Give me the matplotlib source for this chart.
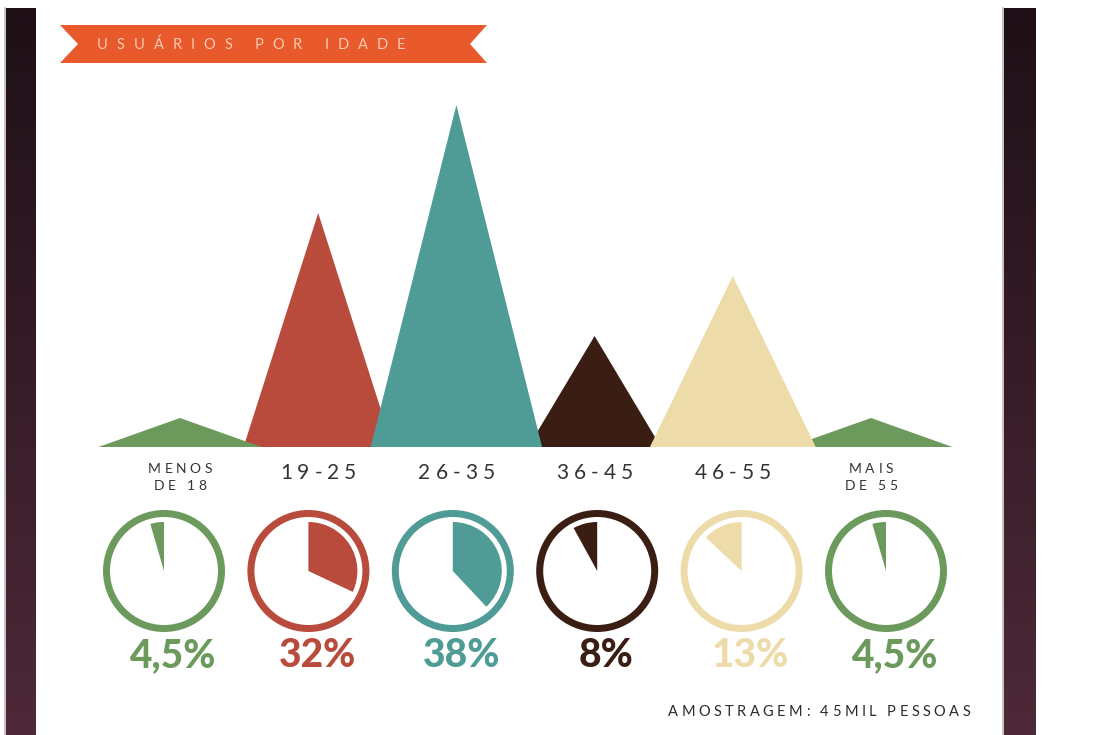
import numpy as np
import matplotlib
matplotlib.use("Agg")
import matplotlib.pyplot as plt
from matplotlib.patches import Polygon, Wedge, Circle
from matplotlib.colors import LinearSegmentedColormap

# ---- data -------------------------------------------------------------
age_groups = ["MENOS\nDE 18", "19-25", "26-35", "36-45", "46-55", "MAIS\nDE 55"]
shares = [4.5, 32, 38, 8, 13, 4.5]               # % of users
peak_heights = [29, 234, 342, 111, 171, 29]       # height of each mountain
title = "USUÁRIOS POR IDADE"
footnote = "AMOSTRAGEM: 45MIL PESSOAS"

# ---- style ------------------------------------------------------------
colors = ["#6c9a5c", "#b84b3b", "#4f9b95", "#3a1e13", "#eddcaa", "#6c9a5c"]
half_base = [0.59, 0.54, 0.62, 0.48, 0.60, 0.59]
layer = [2, 1, 3, 1, 3, 2]
clockwise = [False, True, True, False, False, False]

W, H = 1111, 735
fig = plt.figure(figsize=(W / 100, H / 100), dpi=100)
fig.patch.set_facecolor("white")
renderer = fig.canvas.get_renderer()


def tracked(x, y, s, size, tracking, color, ha="center",
            family="Lato", weight="normal"):
    """Letter-spaced text; x, y in pixels from top-left, y is the baseline."""
    widths = []
    for ch in s:
        if ch == " ":
            widths.append(size * 100 / 72 * 0.28)
        else:
            t = fig.text(0, 0, ch, fontsize=size, family=family, weight=weight)
            widths.append(t.get_window_extent(renderer).width)
            t.remove()
    total = sum(widths) + tracking * (len(s) - 1)
    if ha == "center":
        x0 = x - total / 2
    elif ha == "right":
        x0 = x - total
    else:
        x0 = x
    for ch, w in zip(s, widths):
        if ch != " ":
            fig.text(x0 / W, 1 - y / H, ch, fontsize=size, family=family,
                     weight=weight, color=color, ha="left", va="baseline")
        x0 += w + tracking


# ---- frame and banner -------------------------------------------------
bg = fig.add_axes([0, 0, 1, 1], zorder=-1)
grad = np.linspace(0, 1, 256).reshape(-1, 1)
frame_cmap = LinearSegmentedColormap.from_list("frame", ["#1e1016", "#4e2939"])
for left, right in [(6, 36), (1004, 1036)]:
    bg.imshow(grad, cmap=frame_cmap, extent=(left, right, H, 8), aspect="auto")
    bg.plot([left - 1.2, left - 1.2], [8, H], color="#bdb6b9", lw=1.2)
bg.add_patch(Polygon([(60, 25), (487, 25), (470, 44), (487, 63), (60, 63), (78, 44)],
                     closed=True, fc="#e8592b", ec="none"))
bg.set_xlim(0, W)
bg.set_ylim(H, 0)
bg.axis("off")

tracked(97, 49, title, 10.5, 9.0, "#f7cbb2", ha="left")

# ---- mountains --------------------------------------------------------
px_per_unit = 138.2
ax = fig.add_axes([(180 - 0.75 * px_per_unit) / W, (H - 447) / H,
                   6.5 * px_per_unit / W, 360 / H])
for i, (h, c) in enumerate(zip(peak_heights, colors)):
    hb = half_base[i]
    ax.fill([i - hb, i, i + hb], [0, h, 0], color=c, lw=0, zorder=layer[i])
ax.set_xlim(-0.75, 5.75)
ax.set_ylim(0, 360)
ax.axis("off")

for i, label in enumerate(age_groups):
    xpix = ax.transData.transform((i, 0))[0]
    lines = label.split("\n")
    if len(lines) == 2:
        tracked(xpix, 473, lines[0], 10, 3.5, "#333333")
        tracked(xpix, 490, lines[1], 10, 3.5, "#333333")
    else:
        tracked(xpix, 479, lines[0], 15, 5.0, "#333333")

# ---- pie dials --------------------------------------------------------
pie_unit = 144.4
axp = fig.add_axes([(164 - 0.6 * pie_unit) / W, (H - 571 - 0.5 * pie_unit) / H,
                    6.2 * pie_unit / W, pie_unit / H])
for i, (v, c) in enumerate(zip(shares, colors)):
    span = v / 100 * 360
    if clockwise[i]:
        t1, t2 = 90 - span, 90
    else:
        t1, t2 = 90, 90 + span
    axp.add_patch(Wedge((i, 0), 49 / pie_unit, t1, t2, fc=c, ec="none"))
    axp.add_patch(Circle((i, 0), 57.5 / pie_unit, fill=False, ec=c, lw=7 * 0.72))
    txt = f"{v:g}".replace(".", ",") + "%"
    axp.text(i + 0.06, -96 / pie_unit, txt, ha="center", va="baseline",
             fontsize=28, weight="black", family="Lato", color=c,
             clip_on=False)
axp.set_xlim(-0.6, 5.6)
axp.set_ylim(-0.5, 0.5)
axp.axis("off")

tracked(970, 716, footnote, 10.5, 3.4, "#2b2b2b", ha="right")

fig.savefig("out.png", dpi=100, facecolor="white")
